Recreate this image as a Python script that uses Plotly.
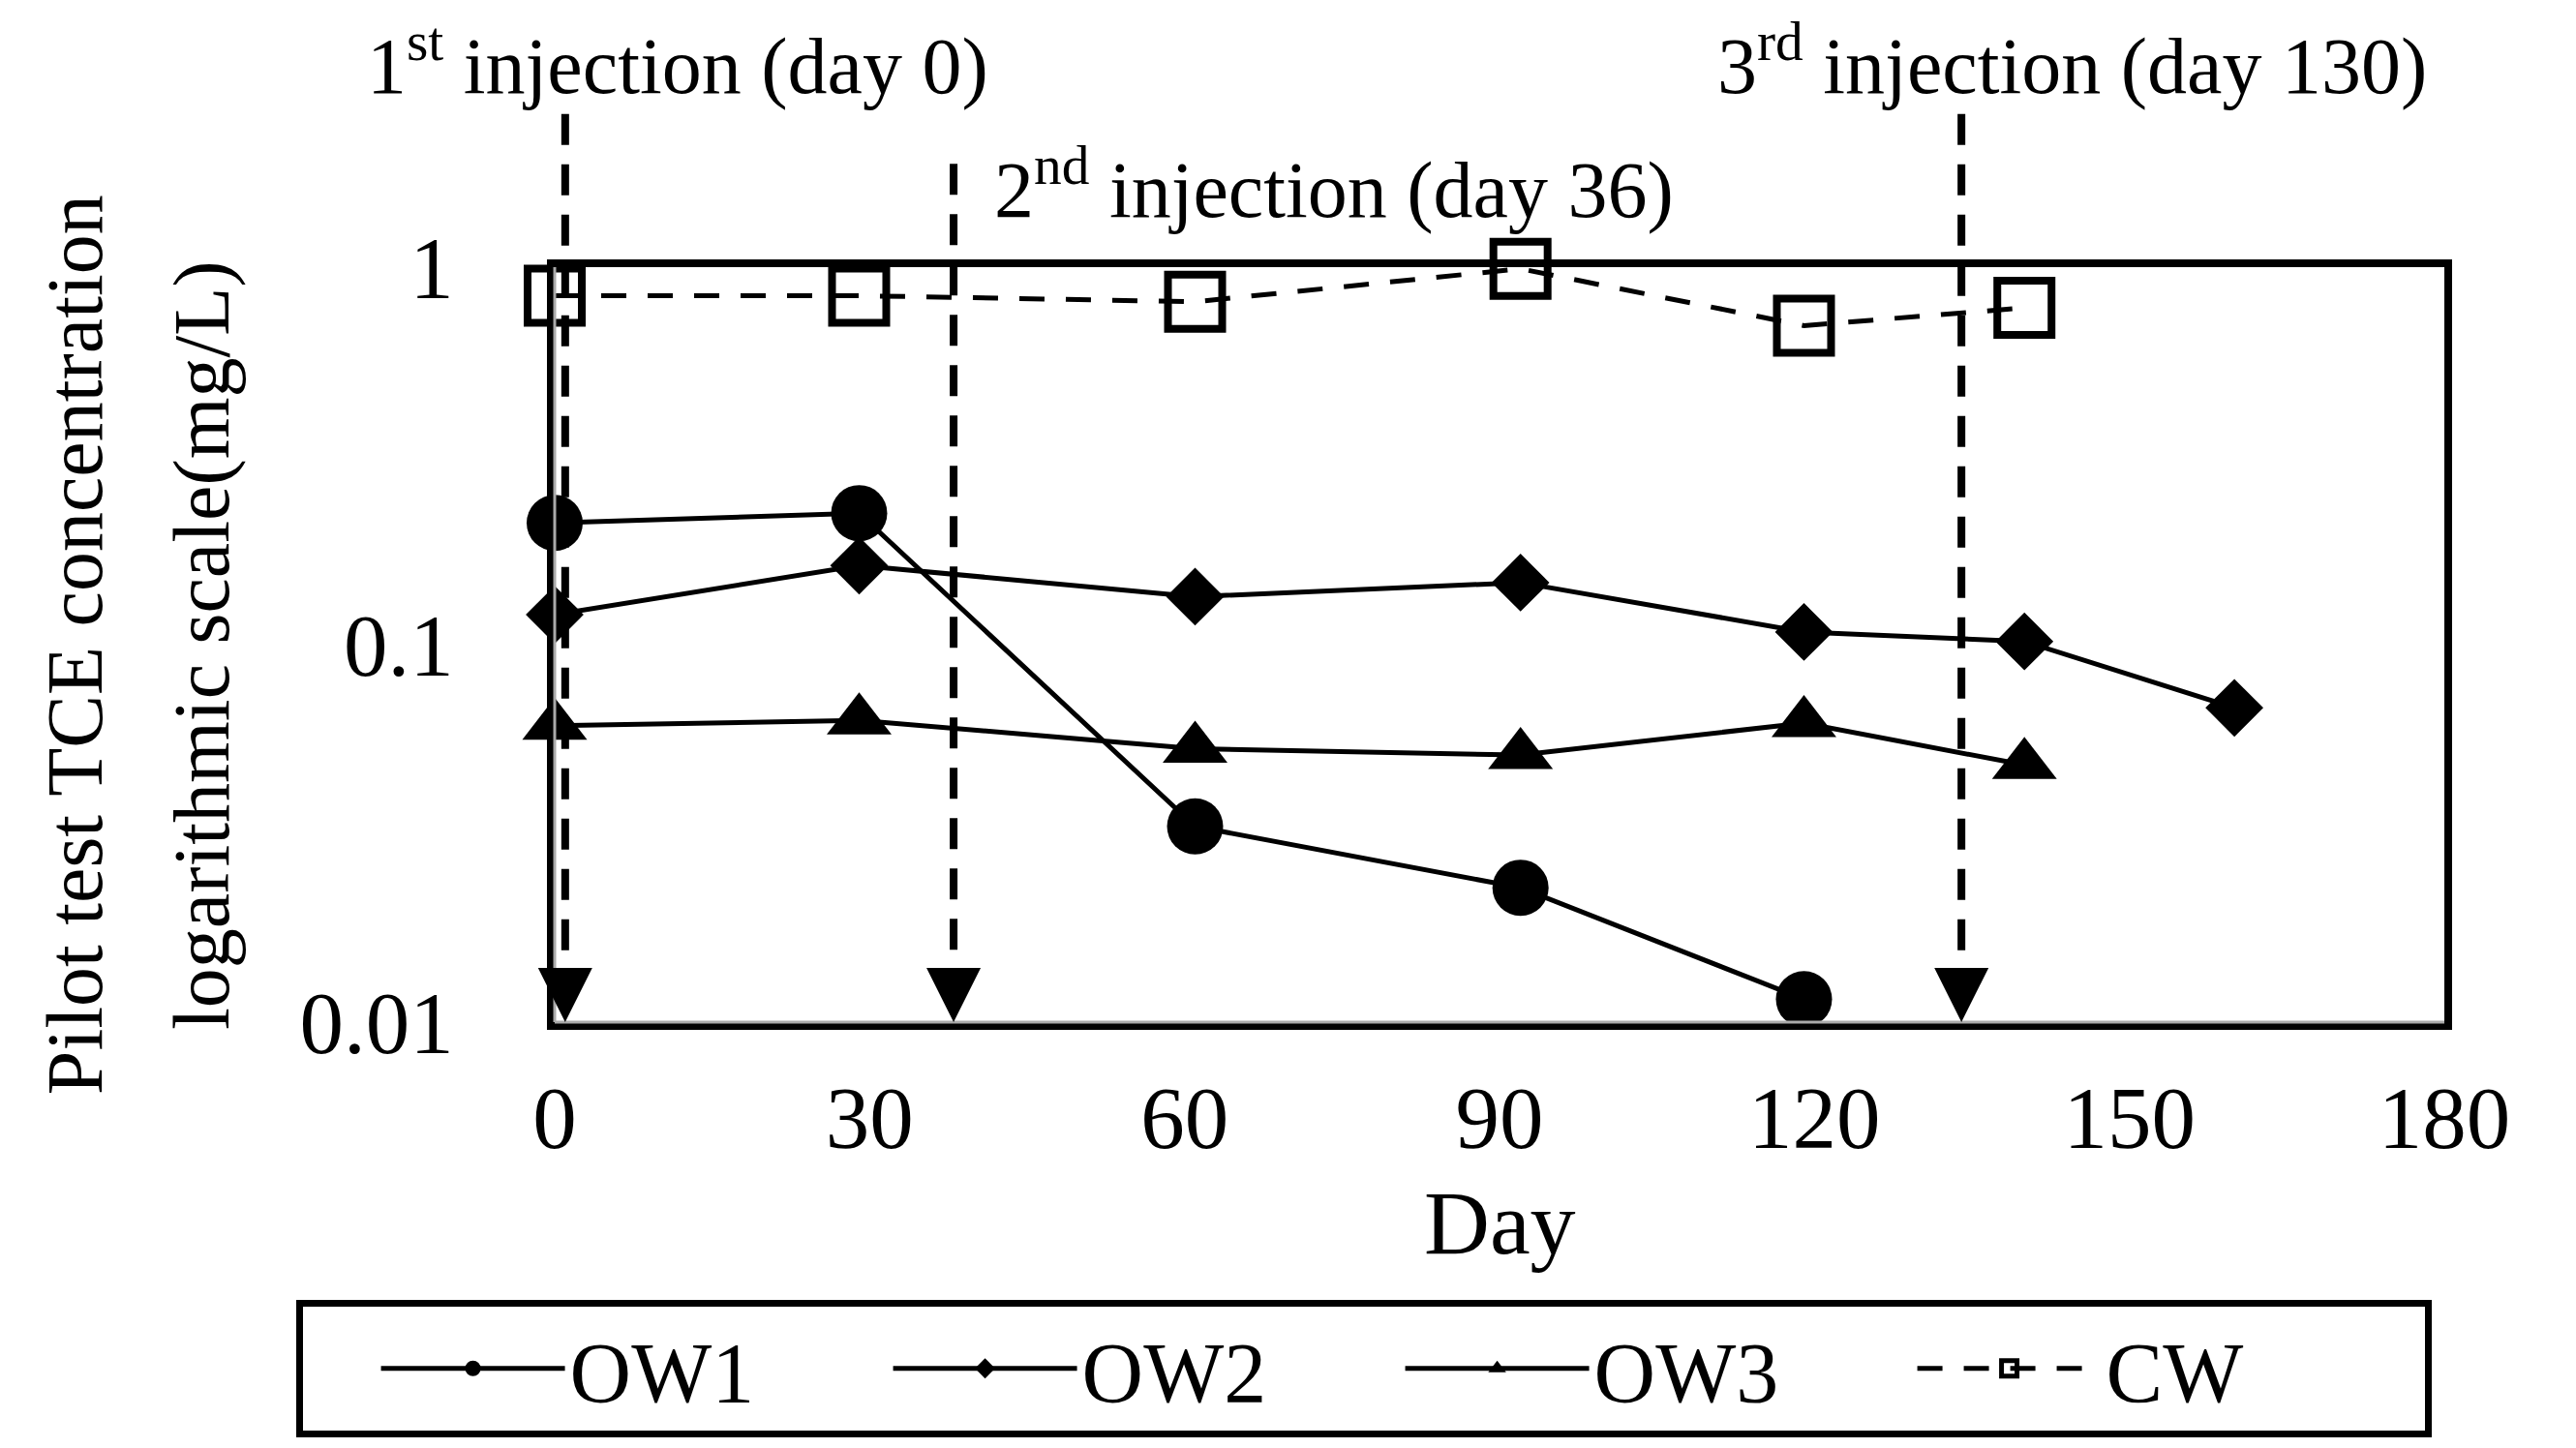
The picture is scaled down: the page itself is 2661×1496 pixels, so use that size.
import plotly.graph_objects as go

# TCE concentration (mg/L)
days_ow1 = [0, 29, 61, 92, 119]
ow1 = [0.21, 0.223, 0.033, 0.0227, 0.0115]

days_ow2 = [0, 29, 61, 92, 119, 140, 160]
ow2 = [0.12, 0.162, 0.134, 0.146, 0.108, 0.102, 0.068]

days_ow3 = [0, 29, 61, 92, 119, 140]
ow3 = [0.061, 0.063, 0.053, 0.051, 0.062, 0.048]

days_cw = [0, 29, 61, 92, 119, 140]
cw = [0.84, 0.84, 0.81, 0.99, 0.70, 0.78]

# injection markers (arrow position on the day axis, label)
inj_days = [1, 38, 134]
inj_labels = ["1<sup>st</sup> injection (day 0)",
              "2<sup>nd</sup> injection (day 36)",
              "3<sup>rd</sup> injection (day 130)"]

FONT = "Liberation Serif, Times New Roman, serif"

fig = go.Figure()

fig.add_trace(go.Scatter(x=days_ow1, y=ow1, name="OW1", mode="lines+markers",
                         line=dict(color="black", width=5),
                         marker=dict(symbol="circle", size=58, color="black"),
                         cliponaxis=False))
fig.add_trace(go.Scatter(x=days_ow2, y=ow2, name="OW2", mode="lines+markers",
                         line=dict(color="black", width=5),
                         marker=dict(symbol="diamond", size=46, color="black"),
                         cliponaxis=False))
fig.add_trace(go.Scatter(x=days_ow3, y=ow3, name="OW3", mode="lines+markers",
                         line=dict(color="black", width=5),
                         marker=dict(symbol="triangle-up", size=58, color="black"),
                         cliponaxis=False))
fig.add_trace(go.Scatter(x=days_cw, y=cw, name="CW", mode="lines+markers",
                         line=dict(color="black", width=5, dash="26px,22px"),
                         marker=dict(symbol="square-open", size=56, color="black",
                                     line=dict(color="black", width=8)),
                         cliponaxis=False))

# dashed injection lines with arrow heads at the bottom
tops = [1.203, 1.137, 1.203]
for d, top in zip(inj_days, tops):
    fig.add_shape(type="line", xref="x", yref="paper", x0=d, x1=d, y0=top, y1=0.05,
                  line=dict(color="black", width=8, dash="32px,20px"))
    fig.add_annotation(x=d, y=-2, xref="x", yref="y", ax=0, ay=-50, text="",
                       showarrow=True, arrowhead=2, arrowwidth=7, arrowsize=1.6,
                       arrowcolor="black", standoff=0)

label_pos = [(0.065, 1.274), (0.4125, 1.11), (0.803, 1.274)]
for lab, (px_, py_) in zip(inj_labels, label_pos):
    fig.add_annotation(x=px_, y=py_, xref="paper", yref="paper", text=lab,
                       showarrow=False, xanchor="center", yanchor="middle",
                       font=dict(family=FONT, size=82, color="black"))

# y axis title, two lines
fig.add_annotation(x=-0.254, y=0.5, xref="paper", yref="paper",
                   text="Pilot test TCE concentration", textangle=-90,
                   xanchor="center", yanchor="middle",
                   showarrow=False, font=dict(family=FONT, size=82, color="black"))
fig.add_annotation(x=-0.187, y=0.5, xref="paper", yref="paper",
                   text="logarithmic scale(mg/L)", textangle=-90,
                   xanchor="center", yanchor="middle",
                   showarrow=False, font=dict(family=FONT, size=82, color="black"))
fig.add_annotation(x=0.5, y=-0.265, xref="paper", yref="paper", text="Day",
                   xanchor="center", yanchor="middle",
                   showarrow=False, font=dict(family=FONT, size=94, color="black"))

# grey inner stroke on bottom and left frame lines
fig.add_shape(type="line", xref="paper", yref="paper", x0=0, x1=1, y0=0, y1=0,
              line=dict(color="#aaaaaa", width=3))
fig.add_shape(type="line", xref="paper", yref="paper", x0=0, x1=0, y0=0, y1=1,
              line=dict(color="#aaaaaa", width=3))

fig.update_layout(
    width=2661, height=1496,
    margin=dict(l=565, r=144, t=268, b=448, autoexpand=False),
    paper_bgcolor="white", plot_bgcolor="white",
    font=dict(family=FONT, size=91, color="black"),
    showlegend=True,
    legend=dict(orientation="h", x=-0.137, y=-0.368, xanchor="left", yanchor="top",
                bordercolor="black", borderwidth=7, bgcolor="white",
                itemwidth=190, entrywidth=324, entrywidthmode="pixels",
                title=dict(text="\u00a0\u00a0\u00a0", side="left",
                           font=dict(family=FONT, size=88)),
                font=dict(family=FONT, size=88, color="black")),
    xaxis=dict(range=[0, 180], tickvals=[0, 30, 60, 90, 120, 150, 180],
               showgrid=False, zeroline=False, showline=True, linecolor="black",
               linewidth=8, mirror=True, ticks="", ticklabelstandoff=13),
    yaxis=dict(type="log", range=[-2, 0], tickvals=[0.01, 0.1, 1],
               ticktext=["0.01", "0.1", "1"], showgrid=False, zeroline=False,
               showline=True, linecolor="black", linewidth=8, mirror=True,
               ticks="", ticklabelstandoff=78),
)

fig.write_html("out.html")
